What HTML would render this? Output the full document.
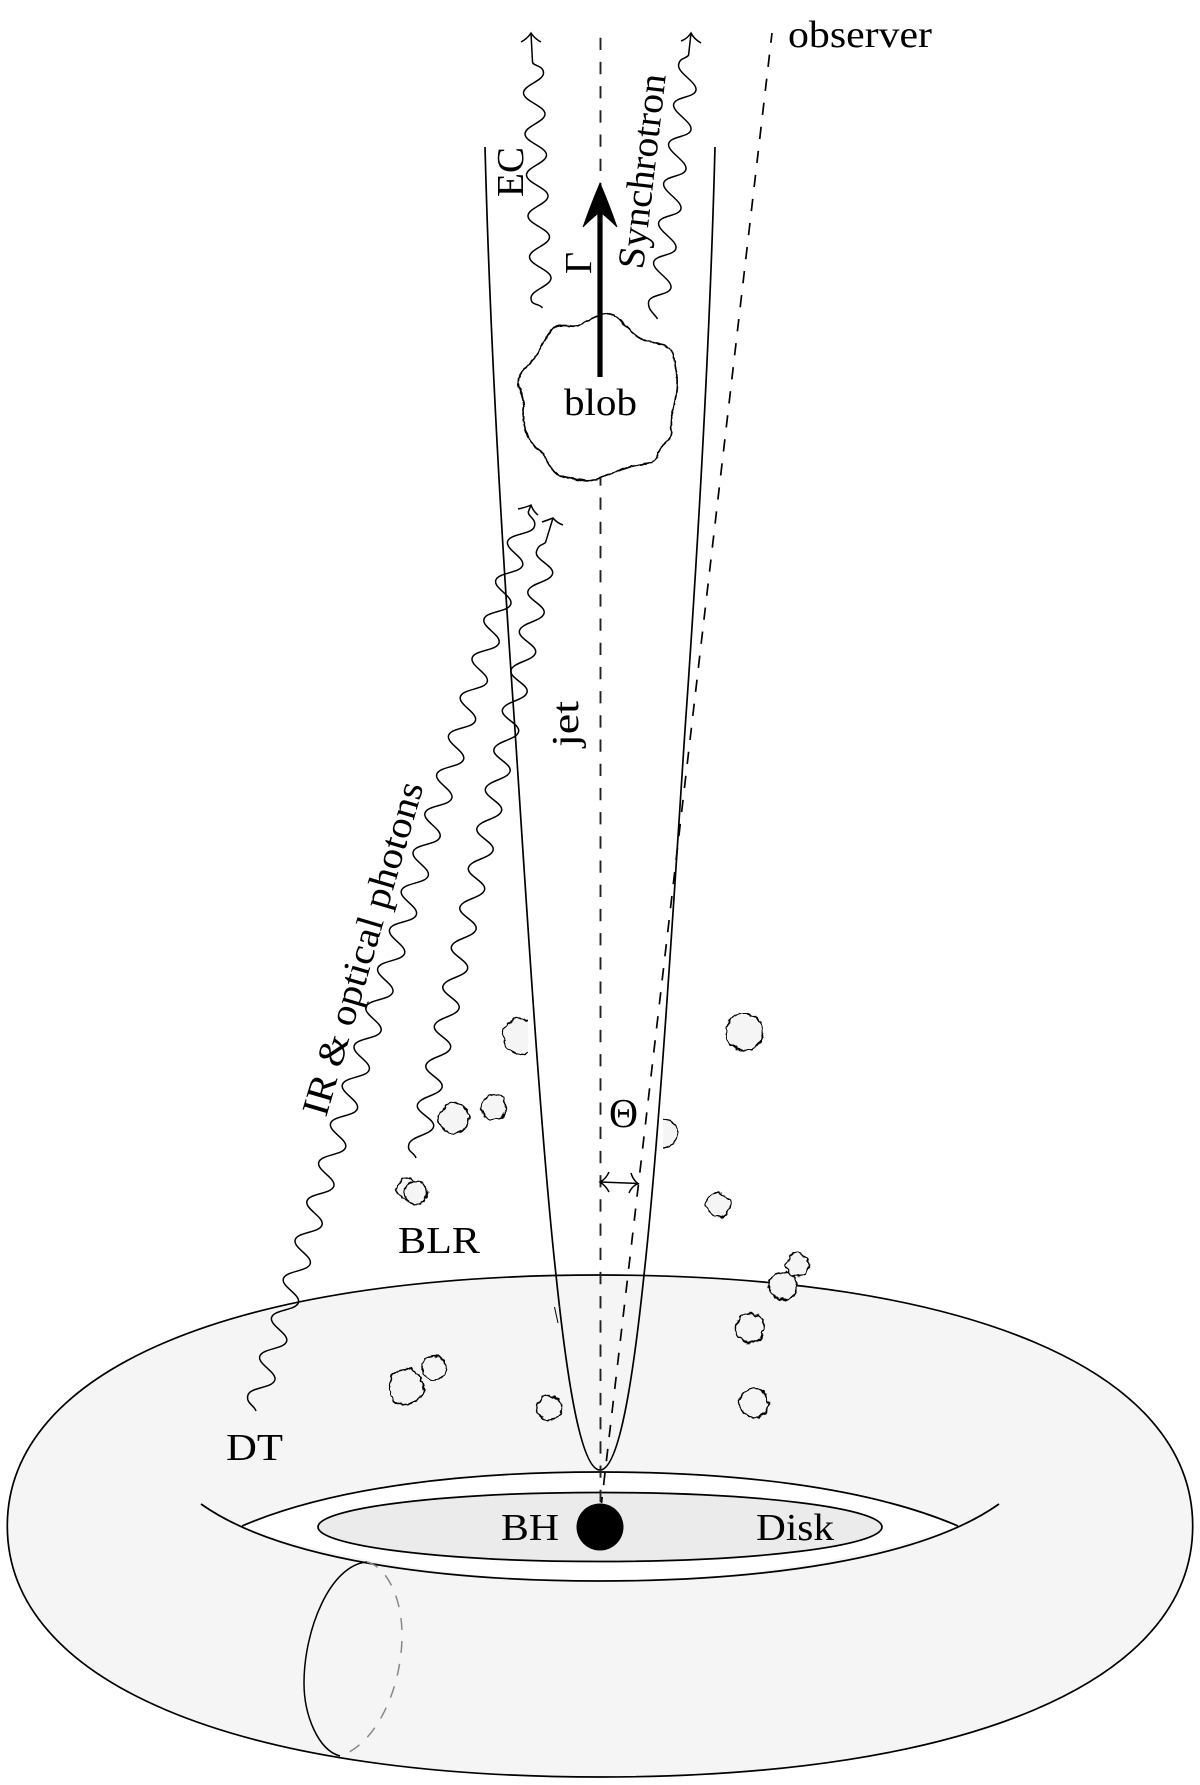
<!DOCTYPE html>
<html>
<head>
<meta charset="utf-8">
<style>
html,body{margin:0;padding:0;background:#fff;}
svg{display:block;}
text{font-family:"Liberation Serif",serif;fill:#000;}
</style>
</head>
<body>
<svg width="1200" height="1785" viewBox="0 0 1200 1785" xmlns="http://www.w3.org/2000/svg">
<defs>
<filter id="r" x="-25%" y="-25%" width="150%" height="150%">
<feTurbulence type="fractalNoise" baseFrequency="0.14" numOctaves="2" seed="4" result="n"/>
<feDisplacementMap in="SourceGraphic" in2="n" scale="6" xChannelSelector="R" yChannelSelector="G"/>
</filter>
<filter id="r2" x="-5%" y="-5%" width="110%" height="110%">
<feTurbulence type="fractalNoise" baseFrequency="0.15" numOctaves="2" seed="7" result="n"/>
<feDisplacementMap in="SourceGraphic" in2="n" scale="2.5" xChannelSelector="R" yChannelSelector="G"/>
</filter>
<clipPath id="cl"><rect x="490" y="1010" width="38" height="60"/></clipPath>
<clipPath id="cr"><rect x="663" y="1110" width="40" height="50"/></clipPath>
</defs>
<rect width="1200" height="1785" fill="#fff"/>

<!-- torus -->
<path d="M7.3 1526C7.3 1370.400 232.300 1275 600 1275C967.700 1275 1192.700 1370.400 1192.700 1526C1192.700 1681.600 967.700 1777 600 1777C232.300 1777 7.300 1681.600 7.300 1526Z" fill="#f5f5f5" stroke="#000" stroke-width="1.7"/>
<path d="M242 1526C335 1486 470 1472 600 1472C730 1472 865 1486 958 1526C870 1560 730 1581 600 1581C470 1581 330 1560 242 1526Z" fill="#fff"/>
<path d="M242 1526C335 1486 470 1472 600 1472C730 1472 865 1486 958 1526" fill="none" stroke="#000" stroke-width="1.7"/>
<path d="M201 1504C280 1560 440 1581 600 1581C760 1581 920 1560 999 1504" fill="none" stroke="#000" stroke-width="1.7"/>
<ellipse cx="600" cy="1527" rx="282" ry="34.5" fill="#ebebeb" stroke="#000" stroke-width="1.7"/>
<circle cx="600" cy="1527" r="23.5" fill="#000"/>

<!-- tube section -->
<path d="M367 1562C330 1565 304 1630 304 1683C304 1715 318 1750 340 1756" fill="none" stroke="#000" stroke-width="1.5"/>
<path d="M367 1562C385 1566 402 1595 402 1635C402 1690 375 1745 340 1756" fill="none" stroke="#888" stroke-width="1.5" stroke-dasharray="12 11"/>

<!-- clouds -->
<g fill="#f5f5f5" stroke="#000" stroke-width="1.6">
<circle cx="744" cy="1032" r="18.5" filter="url(#r)"/>
<g clip-path="url(#cl)"><circle cx="520" cy="1036" r="17.5" filter="url(#r)"/></g>
<g clip-path="url(#cr)"><circle cx="662" cy="1133" r="15" filter="url(#r)"/></g>
<circle cx="454" cy="1118" r="15" filter="url(#r)"/>
<circle cx="494" cy="1107" r="12" filter="url(#r)"/>
<circle cx="408" cy="1189" r="11" filter="url(#r)"/>
<circle cx="416" cy="1193" r="11.5" filter="url(#r)"/>
<circle cx="718" cy="1205" r="12" filter="url(#r)"/>
<circle cx="797" cy="1265" r="11.5" filter="url(#r)"/>
<circle cx="783" cy="1286" r="14" filter="url(#r)"/>
<circle cx="750" cy="1328" r="14.5" filter="url(#r)"/>
<circle cx="434" cy="1368" r="12" filter="url(#r)"/>
<circle cx="406" cy="1387" r="17.500" filter="url(#r)"/>
<circle cx="549" cy="1408" r="12" filter="url(#r)"/>
<circle cx="754" cy="1403" r="14.5" filter="url(#r)"/>
</g>
<line x1="554.5" y1="1307" x2="558" y2="1323" stroke="#000" stroke-width="1"/>

<!-- jet -->
<path d="M485 147C490 340 503 560 515 730C525 880 540 1130 556 1275C566 1370 580 1470 600 1470C620 1470 634 1370 644 1275C660 1130 675 880 685 730C697 560 710 340 715 147" fill="none" stroke="#000" stroke-width="1.7"/>

<!-- dashed lines -->
<line x1="600.5" y1="37.7" x2="600.5" y2="1503" stroke="#222" stroke-width="1.9" stroke-dasharray="12.3 11.9"/>
<line x1="772" y1="33" x2="601.5" y2="1503" stroke="#000" stroke-width="1.7" stroke-dasharray="12.3 11.9" stroke-dashoffset="2.4"/>

<!-- blob -->
<path d="M594 317.5Q600 315 604.5 314Q609 313 613.5 315Q618 317 622.5 322.5Q627 328 634 334Q641 340 648.5 341.5Q656 343 664 345.5Q672 348 673.5 355.5Q675 363 676.5 373Q678 383 676 395Q674 407 672 414.5Q670 422 671.5 429.5Q673 437 666 442.5Q659 448 657.5 455.5Q656 463 645 464Q634 465 623.5 469Q613 473 601.5 477.5Q590 482 583.5 480.5Q577 479 568 478Q559 477 554.5 472Q550 467 546.5 459.5Q543 452 536 447Q529 442 525.5 430Q522 418 523.5 410.5Q525 403 520 390.5Q515 378 524.5 369Q534 360 539.5 350Q545 340 549 333.5Q553 327 558 326Q563 325 570 326Q577 327 582.5 323.5Q588 320 594 317.5Z" fill="#fff" stroke="#000" stroke-width="1.7" filter="url(#r2)"/>

<!-- Gamma arrow -->
<line x1="600" y1="377" x2="600" y2="210" stroke="#000" stroke-width="5.2"/>
<path d="M600 183Q609 204 617 227Q607 217 600 212Q593 217 583 227Q591 204 600 183Z" fill="#000" stroke="#000" stroke-width="0.8"/>

<!-- wavy photons -->
<g fill="none" stroke="#000" stroke-width="1.5">
<path d="M256 1411C254 1405 245.5 1403 248 1395
s24.3-6.8 26.8-14.8s-17.5-16-15-24
s24.3-6.8 26.8-14.8s-17.5-16-15-24
s24.3-6.8 26.8-14.8s-17.5-16-15-24
s24.3-6.8 26.8-14.8s-17.5-16-15-24
s24.3-6.8 26.8-14.8s-17.5-16-15-24
s24.3-6.8 26.8-14.8s-17.5-16-15-24
s24.3-6.8 26.8-14.8s-17.5-16-15-24
s24.3-6.8 26.8-14.8s-17.5-16-15-24
s24.3-6.8 26.8-14.8s-17.5-16-15-24
s24.3-6.8 26.8-14.8s-17.5-16-15-24
s24.3-6.8 26.8-14.8s-17.5-16-15-24
s24.3-6.8 26.8-14.8s-17.5-16-15-24
s24.3-6.8 26.8-14.8s-17.5-16-15-24
s24.3-6.8 26.8-14.8s-17.5-16-15-24
s24.3-6.8 26.8-14.8s-17.5-16-15-24
s24.3-6.8 26.8-14.8s-17.5-16-15-24
s24.3-6.8 26.8-14.8s-17.5-16-15-24
s24.3-6.8 26.8-14.8s-17.5-16-15-24
s24.3-6.8 26.8-14.8s-17.5-16-15-24
s24.3-6.8 26.8-14.8s-17.5-16-15-24
s24.3-6.8 26.8-14.8s-17.5-16-15-24
s24.3-6.8 26.8-14.8s-17.5-16-15-24
s24.3-6.8 26.8-14.8s-7-10-6-15L531 505"/>
<path d="M518 509Q527 507 531 505Q533 511 538 515"/>
<path d="M416 1158C414 1152 406.5 1152 409 1144
s22-9 24.5-17s-18.5-14.5-16-22.5
s22-9 24.5-17s-18.5-14.5-16-22.5
s22-9 24.5-17s-18.5-14.5-16-22.5
s22-9 24.5-17s-18.5-14.5-16-22.5
s22-9 24.5-17s-18.5-14.5-16-22.5
s22-9 24.5-17s-18.5-14.5-16-22.5
s22-9 24.5-17s-18.5-14.5-16-22.5
s22-9 24.5-17s-18.5-14.5-16-22.5
s22-9 24.5-17s-18.5-14.5-16-22.5
s22-9 24.5-17s-18.5-14.5-16-22.5
s22-9 24.5-17s-18.5-14.5-16-22.5
s22-9 24.5-17s-18.5-14.5-16-22.5
s22-9 24.5-17s-18.5-14.5-16-22.5
s22-9 24.5-17s-18.5-14.5-16-22.5
s22-9 24.5-17s-18.5-14.5-16-22.5
s6-6 9-9L553 518"/>
<path d="M542 522Q548 520 553 518Q557 523 563 525"/>
<path d="M542.5 308C539 303 531 306 531 298
s20-12 20-20s-21.5-13-21.5-21
s20-12 20-20s-21.5-13-21.5-21
s20-12 20-20s-21.5-13-21.5-21
s20-12 20-20s-21.5-13-21.5-21
s20-12 20-20s-21.5-13-21.5-21
s20-12 20-20s-11-7-11-11L531 33"/>
<path d="M521 42Q527 39 531 33Q535 39 541 42"/>
<path d="M657.5 319C654 313 647.6 310 648.6 302
s21.4-6.5 22.4-14.5s-18.4-17-17.4-25
s21.4-6.5 22.4-14.5s-18.4-17-17.4-25
s21.4-6.5 22.4-14.5s-18.4-17-17.4-25
s21.4-6.5 22.4-14.5s-18.4-17-17.4-25
s21.4-6.5 22.4-14.5s-18.4-17-17.4-25
s21.4-6.5 22.4-14.5s-18.4-17-17.4-25
s8-6 10-10L691 33"/>
<path d="M681 41Q687 39 691 33Q694 39 701 43"/>
</g>

<!-- theta double arrow -->
<g fill="none" stroke="#000" stroke-width="1.5">
<line x1="600" y1="1182" x2="638" y2="1183.5"/>
<path d="M609 1172Q606 1179 600 1182Q606 1186 609 1192"/>
<path d="M631 1173Q633 1180 638 1183.5Q632 1186 629 1193"/>
</g>

<!-- labels -->
<g font-size="38">
<text x="788" y="47" textLength="144" lengthAdjust="spacingAndGlyphs">observer</text>
<text x="564" y="415" textLength="73" lengthAdjust="spacingAndGlyphs">blob</text>
<text x="398" y="1253" textLength="82" lengthAdjust="spacingAndGlyphs">BLR</text>
<text x="501" y="1540" textLength="58" lengthAdjust="spacingAndGlyphs">BH</text>
<text x="756" y="1540" textLength="78" lengthAdjust="spacingAndGlyphs">Disk</text>
<text x="226" y="1460" textLength="57" lengthAdjust="spacingAndGlyphs">DT</text>
<text x="609" y="1127" textLength="29" lengthAdjust="spacingAndGlyphs" font-size="41">Θ</text>
<text transform="translate(578,747) rotate(-90)" textLength="46" lengthAdjust="spacingAndGlyphs">jet</text>
<text transform="translate(523,197) rotate(-90)" textLength="50" lengthAdjust="spacingAndGlyphs">EC</text>
<text transform="translate(591,274) rotate(-90)" textLength="22" lengthAdjust="spacingAndGlyphs">Γ</text>
<text transform="translate(643,270) rotate(-83.3)" textLength="196" lengthAdjust="spacingAndGlyphs">Synchrotron</text>
<text transform="translate(326,1118) rotate(-73.6)" textLength="346" lengthAdjust="spacingAndGlyphs">IR &amp; optical photons</text>
</g>
</svg>
</body>
</html>
